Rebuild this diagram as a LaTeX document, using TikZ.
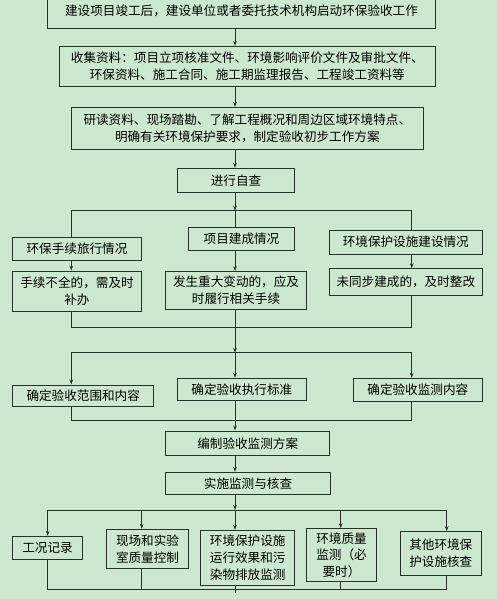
\documentclass[tikz,border=0pt]{standalone}
\usepackage{fontspec}
\newfontfamily\cjk{Noto Sans CJK SC}
\usetikzlibrary{arrows.meta}
\definecolor{bggreen}{RGB}{204,232,206}
\definecolor{linegray}{RGB}{40,48,40}
\begin{document}
\begin{tikzpicture}[x=1pt,y=-1pt,
  box/.style={draw=linegray,line width=0.9pt,inner sep=0pt,align=center,
    font=\cjk\fontsize{12.6}{16.7}\selectfont},
  link/.style={draw=linegray,line width=0.9pt},
  flow/.style={link,-{Stealth[length=5pt,width=3.6pt]}}]
\useasboundingbox (0,0) rectangle (497,599);
\fill [bggreen] (0,0) rectangle (497,599);
\node [box,minimum width=387.6pt,minimum height=34.3pt] (start) at (241.5,11.2) {建设项目竣工后，建设单位或者委托技术机构启动环保验收工作};
\node [box,minimum width=376pt,minimum height=40pt] (collect) at (247.3,66.3) {收集资料：项目立项核准文件、环境影响评价文件及审批文件、\\环保资料、施工合同、施工期监理报告、工程竣工资料等};
\node [box,minimum width=352pt,minimum height=41.7pt] (study) at (247.3,128.2) {研读资料、现场踏勘、了解工程概况和周边区域环境特点、\\明确有关环境保护要求，制定验收初步工作方案};
\node [box,minimum width=117.4pt,minimum height=24.4pt] (selfchk) at (236,180.5) {进行自查};
\node [box,minimum width=128.6pt,minimum height=23pt] (procA) at (77,249.2) {环保手续旅行情况};
\node [box,minimum width=106.4pt,minimum height=23pt] (procB) at (241.5,239.2) {项目建成情况};
\node [box,minimum width=153pt,minimum height=24pt] (procC) at (405.8,242) {环境保护设施建设情况};
\node [box,minimum width=128.6pt,minimum height=40.3pt] (fixA) at (77,291.2) {手续不全的，需及时\\补办};
\node [box,minimum width=140.6pt,minimum height=37.3pt] (fixB) at (236,290.3) {发生重大变动的，应及\\时履行相关手续};
\node [box,minimum width=153pt,minimum height=26.6pt] (fixC) at (405.8,282) {未同步建成的，及时整改};
\node [box,minimum width=141pt,minimum height=21.7pt] (scope) at (83.2,395.8) {确定验收范围和内容};
\node [box,minimum width=129pt,minimum height=22.4pt] (std) at (241.8,389.5) {确定验收执行标准};
\node [box,minimum width=129pt,minimum height=23.4pt] (item) at (417.8,390) {确定验收监测内容};
\node [box,minimum width=164pt,minimum height=24.7pt] (plan) at (247.7,443.3) {编制验收监测方案};
\node [box,minimum width=164.6pt,minimum height=22pt] (exec) at (248,483.3) {实施监测与核查};
\node [box,minimum width=69.6pt,minimum height=23pt] (chkA) at (47.5,547.8) {工况记录};
\node [box,minimum width=81.6pt,minimum height=39.4pt] (chkB) at (147.5,549) {现场和实验\\室质量控制};
\node [box,minimum width=94pt,minimum height=54.7pt] (chkC) at (247.7,557.7) {环境保护设施\\运行效果和污\\染物排放监测};
\node [box,minimum width=70.4pt,minimum height=53pt] (chkD) at (341.5,555.2) {环境质量\\监测（必\\要时）};
\node [box,minimum width=81.7pt,minimum height=43.6pt] (chkE) at (440.8,553.5) {其他环境保\\护设施核查};
\coordinate (busA) at (235,210.7);
\coordinate (busAl) at (71.3,210.7);
\coordinate (busAr) at (411.7,210.7);
\coordinate (busB) at (235,327.5);
\coordinate (busC) at (235,352.7);
\coordinate (busD) at (235,420.5);
\coordinate (busE) at (235,510);
\coordinate (tail) at (235,593);
\draw [flow] (start.south -| busA) -- (collect.north -| busA);
\draw [flow] (collect.south -| busA) -- (study.north -| busA);
\draw [flow] (study.south -| busA) -- (selfchk.north -| busA);
\draw [flow] (selfchk.south -| busA) -- (busA);
\draw [link] (busAl) -- (busAr);
\draw [link] (busAl) -- (busAl |- procA.north);
\draw [link] (busA) -- (busA |- procB.north);
\draw [link] (busAr) -- (busAr |- procC.north);
\draw [flow] (procA.south -| busAl) -- (fixA.north -| busAl);
\draw [flow] (procB.south -| busA) -- (fixB.north -| busA);
\draw [flow] (procC.south -| busAr) -- (fixC.north -| busAr);
\draw [link] (fixA.south -| busAl) -- (busAl |- busB) -- (busAr |- busB) -- (fixC.south -| busAr);
\draw [flow] (fixB.south -| busA) -- (busC);
\draw [link] (busAl |- busC) -- (busAr |- busC);
\draw [flow] (busAl |- busC) -- (busAl |- scope.north);
\draw [flow] (busC) -- (busC |- std.north);
\draw [flow] (busAr |- busC) -- (busAr |- item.north);
\draw [link] (scope.south -| busAl) -- (busAl |- busD) -- (busAr |- busD) -- (item.south -| busAr);
\draw [flow] (std.south -| busA) -- (plan.north -| busA);
\draw [flow] (plan.south -| busA) -- (exec.north -| busA);
\draw [flow] (exec.south -| busA) -- (busE);
\foreach \n/\x in {chkA/47.7,chkB/141.7,chkC/235,chkD/340.7,chkE/446.7}{
  \coordinate (top\n) at (\x,510);
  \coordinate (end\n) at (\x,589.5);
  \draw [flow] (top\n) -- (top\n |- \n.north);
  \draw [link] (\n.south -| end\n) -- (end\n);
}
\draw [link] (topchkA) -- (topchkE);
\draw [link] (endchkA) -- (endchkE);
\draw [link] (endchkC) -- (tail);
\end{tikzpicture}
\end{document}
